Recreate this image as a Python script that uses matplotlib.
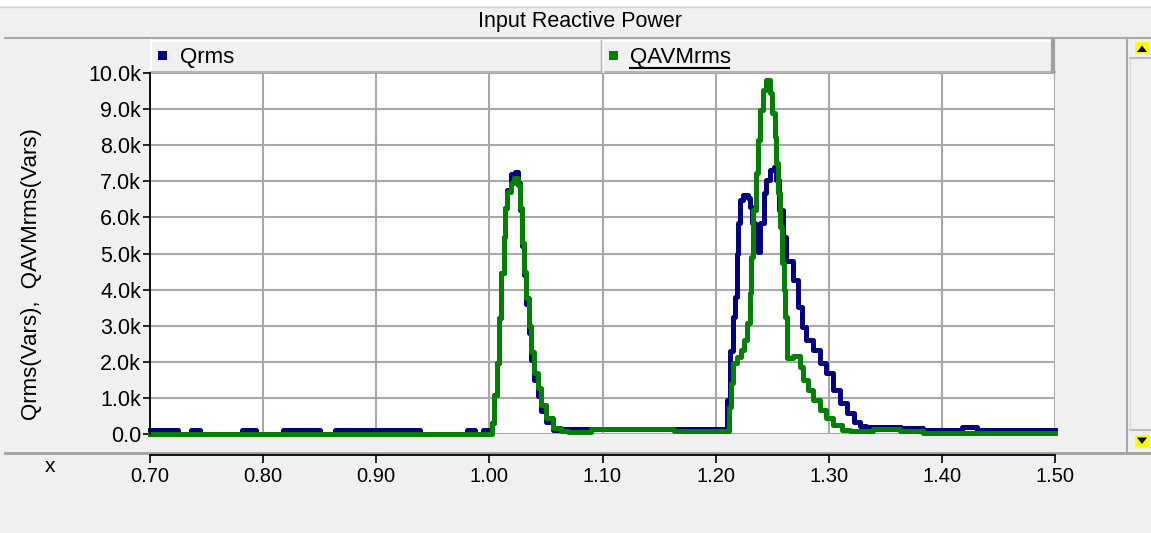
import matplotlib
matplotlib.use('Agg')
import matplotlib.pyplot as plt
from matplotlib.patches import Rectangle, Polygon
from matplotlib.ticker import FuncFormatter, MultipleLocator

plt.rcParams['font.family'] = ['Liberation Sans', 'DejaVu Sans']
NARROW = ['Liberation Sans Narrow', 'Liberation Sans', 'DejaVu Sans']

title = 'Input Reactive Power'
ylabel = 'Qrms(Vars),  QAVMrms(Vars)'
names = ['Qrms', 'QAVMrms']
colors = ['#000080', '#008000']

# Qrms, step samples (x, Vars)
qrms_x = [0.700, 0.7246, 0.7365, 0.7439, 0.7809, 0.7941, 0.8177, 0.8503, 0.8636, 0.9389,
          0.9803, 0.9877, 0.9948, 1.0027, 1.0042, 1.0066, 1.0086, 1.0107, 1.0125, 1.0140,
          1.0160, 1.0190, 1.0225, 1.0250, 1.0272, 1.0284, 1.0308, 1.0323, 1.0352, 1.0367,
          1.0396, 1.0426, 1.0456, 1.0500, 1.0560, 1.0633, 1.2100, 1.2129, 1.2152, 1.2167,
          1.2188, 1.2202, 1.2217, 1.2241, 1.2285, 1.2300, 1.2321, 1.2344, 1.2374, 1.2394,
          1.2424, 1.2448, 1.2483, 1.2512, 1.2536, 1.2560, 1.2595, 1.2625, 1.2680, 1.2730,
          1.2760, 1.2800, 1.2860, 1.2920, 1.2980, 1.3040, 1.3100, 1.3160, 1.3220, 1.3280,
          1.3330, 1.3640, 1.3837, 1.4177, 1.4310, 1.5000]
qrms_y = [100, 0, 100, 0, 100, 0, 100, 0, 100, 0,
          100, 0, 100, 300, 1080, 1970, 3200, 4460, 5460, 6260,
          6750, 7200, 7250, 6950, 6200, 5200, 4400, 3600, 2800, 2050,
          1500, 1050, 650, 330, 100, 150, 940, 2300, 3250, 3800,
          5000, 5840, 6480, 6620, 6550, 6300, 5840, 5200, 5050, 5840,
          6670, 7030, 7300, 7400, 7030, 6200, 5470, 4800, 4270, 3530,
          2970, 2600, 2330, 1960, 1690, 1220, 850, 570, 340, 220,
          190, 170, 120, 200, 120, 120]

# QAVMrms, step samples (x, Vars)
qavm_x = [0.700, 1.0027, 1.0042, 1.0066, 1.0086, 1.0107, 1.0125, 1.0140, 1.0160, 1.0190,
          1.0215, 1.0250, 1.0272, 1.0284, 1.0308, 1.0323, 1.0352, 1.0367, 1.0396, 1.0426,
          1.0456, 1.0500, 1.0560, 1.0633, 1.0693, 1.0896, 1.1630, 1.2117, 1.2137, 1.2158,
          1.2188, 1.2226, 1.2255, 1.2277, 1.2300, 1.2315, 1.2330, 1.2353, 1.2374, 1.2394,
          1.2418, 1.2448, 1.2477, 1.2500, 1.2521, 1.2536, 1.2551, 1.2572, 1.2589, 1.2604,
          1.2615, 1.2628, 1.2680, 1.2743, 1.2773, 1.2817, 1.2862, 1.2920, 1.2980, 1.3040,
          1.3113, 1.3185, 1.3393, 1.3630, 1.3837, 1.5000]
qavm_y = [0, 300, 1080, 1970, 3200, 4460, 5460, 6260, 6700, 6950,
          7100, 6900, 6260, 5300, 4500, 3770, 3000, 2270, 1700, 1270,
          800, 450, 170, 80, 50, 130, 80, 760, 1410, 1970,
          2140, 2330, 2600, 3070, 3900, 4900, 6200, 7220, 8140, 8970,
          9530, 9800, 9440, 8890, 8240, 7500, 6670, 5740, 4730, 3990,
          3250, 2100, 2150, 1860, 1500, 1220, 940, 660, 430, 250,
          110, 80, 130, 90, 30, 30]

W, H = 1151, 533
fig = plt.figure(figsize=(W / 100, H / 100), dpi=100, facecolor='#f0f0f0')

# background layer in pixel coordinates for the window chrome
bg = fig.add_axes([0, 0, 1, 1])
bg.set_xlim(0, W)
bg.set_ylim(H, 0)
bg.axis('off')
bg.set_zorder(0)

bg.add_patch(Rectangle((0, 0), W, 6, fc='white', ec='none'))
bg.plot([0, W], [6.5, 6.5], color='#d4d4d4', lw=1)
bg.text(580, 22, title, ha='center', va='center', fontsize=15.5, family=NARROW)
bg.plot([5, W], [37.5, 37.5], color='#a8a8a8', lw=1.5)
bg.plot([5, W], [452.5, 452.5], color='#a0a0a0', lw=2)
bg.plot([1127.5, 1127.5], [38, 452], color='#a8a8a8', lw=1.5)

# scrollbar buttons
bg.plot([1130, W], [58, 58], color='#b0b0b0', lw=1.2)
bg.plot([1130, W], [430, 430], color='#b0b0b0', lw=1.2)
bg.plot([1130.5, 1130.5], [58, 430], color='#d8d8d8', lw=1)
bg.add_patch(Rectangle((1135, 42), 14, 12, fc='#ffff00', ec='none'))
bg.add_patch(Polygon([[1137, 52], [1147, 52], [1142, 45.5]], fc='black', ec='none'))
bg.add_patch(Rectangle((1135, 435), 14, 12, fc='#ffff00', ec='none'))
bg.add_patch(Polygon([[1137, 437.5], [1147, 437.5], [1142, 444]], fc='black', ec='none'))

# legend strip
bg.plot([151, 1053], [40.5, 40.5], color='white', lw=1.5)
bg.plot([151.5, 151.5], [40, 72], color='white', lw=1.5)
bg.plot([151, 1055], [72, 72], color='#b4b4b4', lw=1.5)
bg.plot([601.5, 601.5], [40, 72], color='#b4b4b4', lw=1)
bg.plot([603, 603], [40, 72], color='white', lw=1)
bg.plot([1053.5, 1053.5], [40, 73], color='#a0a0a0', lw=3)
leg_pos = [(158, 180), (609, 630)]
for (sx, tx), name, col in zip(leg_pos, names, colors):
    bg.add_patch(Rectangle((sx, 51), 9, 9, fc=col, ec='none'))
    bg.text(tx, 57, name, ha='left', va='center', fontsize=16, family=NARROW)
bg.plot([630, 729], [68, 68], color='black', lw=1.5)

bg.text(32, 274, ylabel, ha='center', va='center', rotation=90, fontsize=16)
bg.text(50, 467, 'x', ha='center', va='center', fontsize=15, family=NARROW)

# plot area
ax = fig.add_axes([150 / W, 1 - 434 / H, 905 / W, 361 / H])
ax.set_zorder(1)
ax.set_facecolor('white')
ax.plot(qrms_x, qrms_y, drawstyle='steps-post', color=colors[0], lw=3.6, clip_on=False)
ax.plot(qavm_x, qavm_y, drawstyle='steps-post', color=colors[1], lw=3.6, clip_on=False)

ax.set_xlim(0.70, 1.50)
ax.set_ylim(0, 10000)
ax.xaxis.set_major_locator(MultipleLocator(0.1))
ax.yaxis.set_major_locator(MultipleLocator(1000))
ax.xaxis.set_major_formatter(FuncFormatter(lambda v, p: f'{v:.2f}'))
ax.yaxis.set_major_formatter(FuncFormatter(lambda v, p: '0.0' if v == 0 else f'{v / 1000:.1f}k'))
ax.grid(True, color='#a8a8a8', lw=1.5)
ax.set_axisbelow(True)

for s in ['top', 'right']:
    ax.spines[s].set_visible(False)
ax.spines['left'].set_linewidth(1.3)
ax.spines['bottom'].set_linewidth(1.3)
ax.spines['bottom'].set_position(('outward', 15))

ax.tick_params(axis='y', direction='out', length=5, width=1.2, pad=1.5, labelsize=15.5)
ax.tick_params(axis='x', direction='out', length=6, width=1.2, pad=3, labelsize=14.5)
for lbl in ax.get_xticklabels():
    lbl.set_family(NARROW)

fig.savefig('out.png', dpi=100, facecolor=fig.get_facecolor())
